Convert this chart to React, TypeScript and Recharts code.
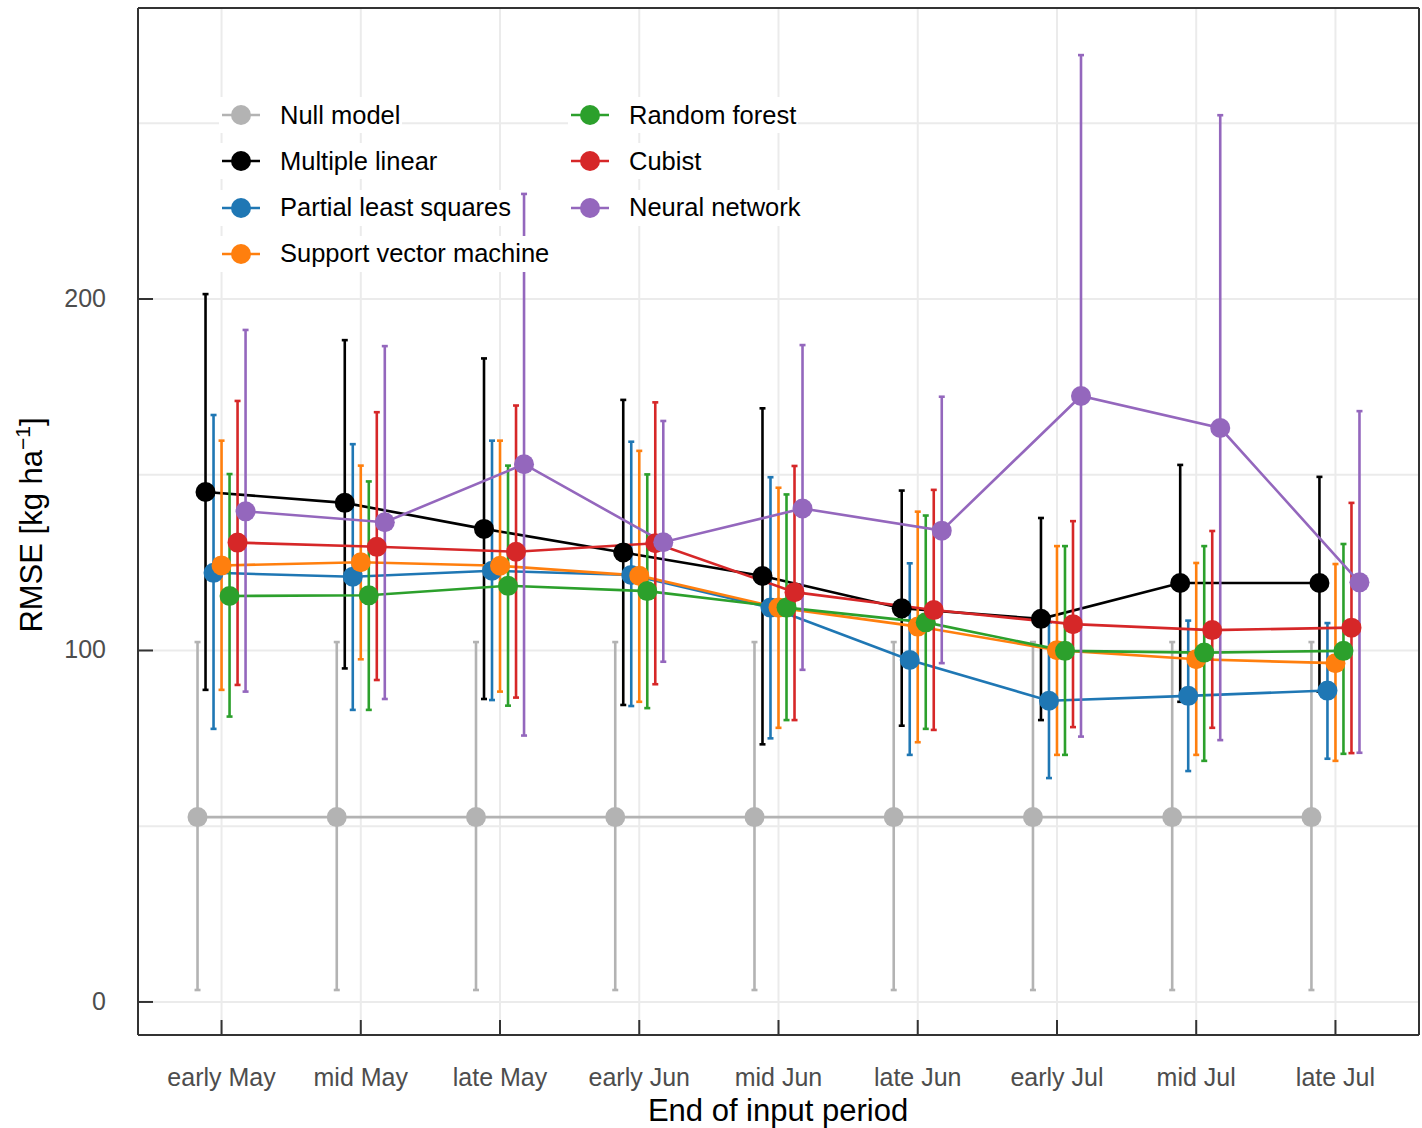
import React from "react";
import {
  CartesianGrid,
  ErrorBar,
  Line,
  LineChart,
  ReferenceLine,
  XAxis,
  YAxis,
} from "recharts";

const CATEGORIES = [
  "early May", "mid May", "late May", "early Jun", "mid Jun",
  "late Jun", "early Jul", "mid Jul", "late Jul",
];

const Y_TICKS = [0, 100, 200];
const GRID_Y = [0, 50, 100, 150, 200, 250];

// RMSE means and error bar ends (low / high)
const nullMean = [52.6, 52.6, 52.6, 52.6, 52.6, 52.6, 52.6, 52.6, 52.6];
const nullLow = [3.4, 3.4, 3.4, 3.4, 3.4, 3.4, 3.4, 3.4, 3.4];
const nullHigh = [102.4, 102.4, 102.4, 102.4, 102.4, 102.4, 102.4, 102.4, 102.4];

const mlrMean = [145.1, 142.0, 134.6, 127.9, 121.2, 112.0, 109.0, 119.2, 119.2];
const mlrLow = [88.8, 94.9, 86.2, 84.5, 73.3, 78.6, 80.2, 85.4, 88.3];
const mlrHigh = [201.4, 188.3, 183.1, 171.3, 168.9, 145.5, 137.7, 152.8, 149.4];

const plsMean = [122.1, 121.0, 122.7, 121.5, 112.2, 97.3, 85.7, 87.1, 88.6];
const plsLow = [77.7, 83.1, 85.9, 84.2, 75.0, 70.3, 63.7, 65.7, 69.2];
const plsHigh = [167.0, 158.7, 159.7, 159.4, 149.3, 124.8, 108.0, 108.5, 107.8];

const svmMean = [124.2, 125.1, 124.1, 121.3, 112.2, 106.8, 100.1, 97.5, 96.4];
const svmLow = [88.8, 97.5, 88.3, 85.4, 78.0, 73.9, 70.3, 70.3, 68.6];
const svmHigh = [159.7, 152.6, 159.7, 156.8, 146.3, 139.5, 129.7, 124.9, 124.6];

const rfMean = [115.5, 115.7, 118.4, 116.9, 112.2, 108.0, 99.9, 99.4, 99.9];
const rfLow = [81.2, 83.1, 84.3, 83.6, 80.2, 77.7, 70.3, 68.6, 70.6];
const rfHigh = [150.2, 148.1, 152.6, 150.1, 144.4, 138.4, 129.7, 129.7, 130.3];

const cubMean = [130.7, 129.5, 128.1, 130.5, 116.6, 111.5, 107.5, 105.8, 106.5];
const cubLow = [90.2, 91.6, 86.6, 90.4, 80.2, 77.4, 78.2, 78.0, 70.8];
const cubHigh = [171.0, 167.8, 169.7, 170.6, 152.5, 145.7, 136.8, 134.0, 142.0];

const nnMean = [139.6, 136.5, 153.0, 130.8, 140.4, 134.1, 172.4, 163.3, 119.4];
const nnLow = [88.3, 86.2, 75.8, 96.8, 94.5, 96.4, 75.5, 74.5, 70.9];
const nnHigh = [191.2, 186.6, 229.9, 165.3, 186.9, 172.2, 269.4, 252.3, 168.1];

const FONT = '"Liberation Sans", Arial, Helvetica, sans-serif';
const DODGE = 0.0575;

const series = [
  { name: "Null model", color: "#b3b3b3", mean: nullMean, low: nullLow, high: nullHigh },
  { name: "Multiple linear", color: "#000000", mean: mlrMean, low: mlrLow, high: mlrHigh },
  { name: "Partial least squares", color: "#1f77b4", mean: plsMean, low: plsLow, high: plsHigh },
  { name: "Support vector machine", color: "#ff7f0e", mean: svmMean, low: svmLow, high: svmHigh },
  { name: "Random forest", color: "#2ca02c", mean: rfMean, low: rfLow, high: rfHigh },
  { name: "Cubist", color: "#d62728", mean: cubMean, low: cubLow, high: cubHigh },
  { name: "Neural network", color: "#9467bd", mean: nnMean, low: nnLow, high: nnHigh },
];

const rows = (s, k) =>
  s.mean.map((v, i) => ({
    x: i + (k - 3) * DODGE,
    y: v,
    err: [v - s.low[i], s.high[i] - v],
  }));

const XTick = ({ x, y, payload }) => (
  <g>
    <line x1={x} x2={x} y1={y} y2={y - 15} stroke="#333" strokeWidth={2} />
    <text x={x} y={y + 51} textAnchor="middle" fontSize={25} fill="#4d4d4d" fontFamily={FONT}>
      {CATEGORIES[payload.value]}
    </text>
  </g>
);

const YTick = ({ x, y, payload }) => (
  <g>
    <line x1={x} x2={x + 15} y1={y} y2={y} stroke="#333" strokeWidth={2} />
    <text x={x - 32} y={y + 8} textAnchor="end" fontSize={25} fill="#4d4d4d" fontFamily={FONT}>
      {payload.value}
    </text>
  </g>
);

const YTitle = () => (
  <text
    transform="translate(42, 525) rotate(-90)"
    textAnchor="middle"
    fontSize={31}
    fill="#000"
    fontFamily={FONT}
  >
    RMSE [kg ha
    <tspan dy={-12} fontSize={21}>−1</tspan>
    <tspan dy={12}>]</tspan>
  </text>
);

const XTitle = () => (
  <text x={778} y={1121} textAnchor="middle" fontSize={31} fill="#000" fontFamily={FONT}>
    End of input period
  </text>
);

function LegendBox() {
  return (
    <div style={{ position: "absolute", left: 0, top: 0, pointerEvents: "none" }}>
      {series.map((s, k) => {
        const col = k < 4 ? 0 : 1;
        const row = k < 4 ? k : k - 4;
        return (
          <div
            key={s.name}
            style={{
              position: "absolute",
              left: 219 + col * 349,
              top: 97 + row * 46.3,
              height: 36,
              display: "flex",
              alignItems: "center",
              background: "#fff",
              paddingRight: 2,
              whiteSpace: "nowrap",
            }}
          >
            <svg width={44} height={36}>
              <line x1={3} x2={41} y1={18} y2={18} stroke={s.color} strokeWidth={2.5} />
              <circle cx={22} cy={18} r={10} fill={s.color} />
            </svg>
            <span style={{ marginLeft: 17, fontSize: 25.5, fontFamily: FONT, color: "#000" }}>
              {s.name}
            </span>
          </div>
        );
      })}
    </div>
  );
}

export default function App() {
  return (
    <div style={{ position: "absolute", left: 0, top: 0, width: 1422, height: 1128, background: "#fff" }}>
      <LineChart width={1422} height={1128} margin={{ top: 8, right: 3, left: 0, bottom: 0 }}>
        <CartesianGrid
          stroke="#ebebeb"
          strokeWidth={2}
          horizontalValues={GRID_Y}
          verticalValues={CATEGORIES.map((_, i) => i)}
        />
        <XAxis
          type="number"
          dataKey="x"
          domain={[-0.6, 8.6]}
          ticks={CATEGORIES.map((_, i) => i)}
          allowDataOverflow
          height={93}
          tickSize={0}
          tickMargin={0}
          tickLine={false}
          tick={XTick}
          axisLine={{ stroke: "#333", strokeWidth: 2 }}
          label={<XTitle />}
        />
        <YAxis
          type="number"
          domain={[-9.4, 282.8]}
          ticks={Y_TICKS}
          allowDataOverflow
          width={138}
          tickSize={0}
          tickMargin={0}
          tickLine={false}
          tick={YTick}
          axisLine={{ stroke: "#333", strokeWidth: 2 }}
          label={<YTitle />}
        />
        <ReferenceLine y={282.8} stroke="#333" strokeWidth={2} ifOverflow="extendDomain" />
        <ReferenceLine x={8.6} stroke="#333" strokeWidth={2} ifOverflow="extendDomain" />
        {series.map((s, k) => (
          <Line
            key={s.name}
            data={rows(s, k)}
            dataKey="y"
            name={s.name}
            stroke={s.color}
            strokeWidth={2.6}
            dot={{ r: 10, fill: s.color, stroke: s.color, strokeWidth: 0 }}
            activeDot={false}
            isAnimationActive={false}
          >
            <ErrorBar dataKey="err" direction="y" width={3} stroke={s.color} strokeWidth={2.6} isAnimationActive={false} />
          </Line>
        ))}
      </LineChart>
      <LegendBox />
    </div>
  );
}
